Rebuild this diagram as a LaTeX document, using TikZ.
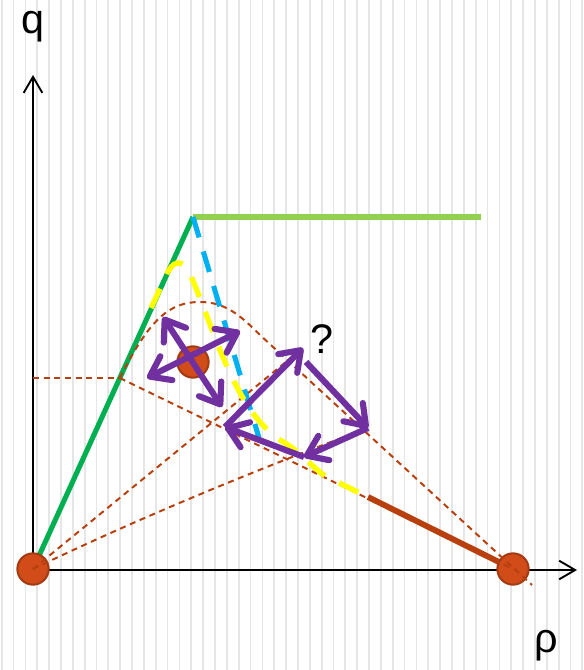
\documentclass[tikz,border=0pt]{standalone}
\usepackage{fontspec}
\setmainfont{Liberation Sans}
\usetikzlibrary{arrows.meta}
\definecolor{phGrid}{HTML}{E6E6E6}
\definecolor{phGreen}{HTML}{00B050}
\definecolor{phLime}{HTML}{92D050}
\definecolor{phBlue}{HTML}{00B0F0}
\definecolor{phYellow}{HTML}{FFFF00}
\definecolor{phRust}{HTML}{B8400F}
\definecolor{phDot}{HTML}{D24C1A}
\definecolor{phDotEdge}{HTML}{A23A12}
\definecolor{phPurple}{HTML}{7030A0}

\begin{document}
\begin{tikzpicture}[x=0.75pt, y=-0.75pt,
    bgline/.style={phGrid, line width=1.3pt},
    axis/.style={line width=1.4pt, -{Straight Barb[length=12pt, width=14pt]}},
    dot/.style={circle, draw=phDotEdge, fill=phDot, line width=1.5pt, minimum size=23.5pt, inner sep=0pt},
    thin/.style={phRust, line width=1.5pt, dash pattern=on 4.5pt off 3.5pt},
    parr/.style={phPurple, line width=4.6pt, -{Straight Barb[length=14pt, width=20pt, round]}},
    pdarr/.style={phPurple, line width=4.6pt, {Straight Barb[length=14pt, width=20pt, round]}-{Straight Barb[length=14pt, width=20pt, round]}},
    lbl/.style={font=\fontsize{31}{36}\selectfont, inner sep=0pt},
]
\useasboundingbox (0,0) rectangle (583,670);
\foreach \i in {0,...,49}
    \draw[bgline] ({1.7+11.85*\i},0) -- ({1.7+11.85*\i},670);

% points
\coordinate (apex) at (193,217);
\coordinate (flat) at (481,217);
\coordinate (p) at (119.8,378);
\coordinate (py) at (33,378);
\coordinate (bluend) at (259,438);
\coordinate (brk) at (368,497);
\coordinate (tentend) at (532,585);
\coordinate (q1) at (225,427);
\coordinate (q2) at (303,348);
\coordinate (q3) at (368,428);
\coordinate (q4) at (304,457);
\coordinate (ytip) at (33,75);
\coordinate (xtip) at (577,570);

% axes
\draw[axis] (33,570) -- (ytip);
\draw[axis] (33,570) -- (xtip);

% boundaries
\draw[phGreen, line width=3.8pt] (33,569) -- (apex);
\draw[phLime, line width=3.8pt] (apex) -- (flat);
\draw[phRust, line width=4.4pt] (brk) -- (513,569);

\node[dot] (a) at (33,569) {};
\node[dot] (b) at (513,569) {};

% thin construction lines
\draw[thin] (py) -- (p);
\draw[thin] (p) -- (b.center);
\draw[thin] (a.center) -- (q2);
\draw[thin] (a.center) .. controls (135,520) and (250,472) .. (q3);
\draw[thin] (p) .. controls (150,318) and (170,302) .. (200,302)
    .. controls (225,302) and (240,315) .. (260,335) -- (tentend);

% dashed paths
\draw[phBlue, line width=3.8pt, dash pattern=on 16pt off 11pt] (apex) -- (bluend);
\draw[phYellow, line width=4pt, dash pattern=on 16pt off 12pt]
    (151,308) -- (166,276) .. controls (172,261) and (182,257) .. (190,274)
    .. controls (215,330) and (235,415) .. (285,443)
    .. controls (300,452) and (310,465) .. (325,476) -- (brk);

\node[dot] (m) at (193,362) {};

% moves
\coordinate (m1) at (163,317);
\coordinate (m2) at (222,407);
\coordinate (m3) at (147,378);
\coordinate (m4) at (240,331);
\draw[pdarr] (m1) -- (m2);
\draw[pdarr] (m3) -- (m4);
\draw[parr] (q1) -- (q2);
\draw[parr] (306,362) -- (q3);
\draw[parr] (q3) -- (q4);
\draw[parr] (q4) -- (q1);

% labels
\node[lbl] (qlab) at (33,27) {q};
\node[lbl] (rholab) at (546,646) {ρ};
\node[lbl] (qmark) at (322,339) {?};
\end{tikzpicture}
\end{document}
